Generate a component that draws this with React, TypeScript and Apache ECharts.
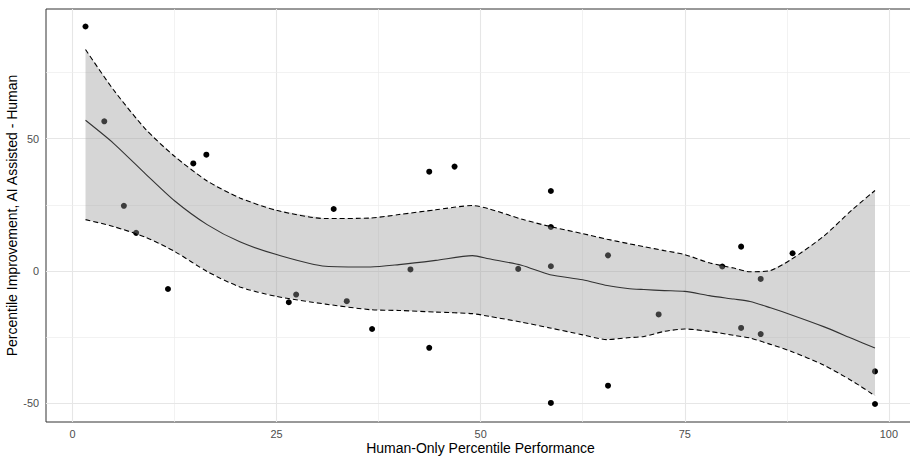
import React, { useEffect, useRef } from "react";
import * as echarts from "echarts";

// Scatter points (Human-only percentile vs improvement)
const pointX = [1.6, 3.9, 6.3, 7.8, 11.7, 14.8, 16.4, 26.5, 27.4, 32.0, 33.6, 36.7, 41.4, 43.7, 43.7, 46.8, 54.6, 58.6, 58.6, 58.6, 58.6, 65.6, 65.6, 71.8, 79.6, 81.9, 81.9, 84.3, 84.3, 88.2, 98.3, 98.3];
const pointY = [92.3, 56.5, 24.6, 14.4, -6.8, 40.6, 43.9, -11.8, -8.9, 23.4, -11.4, -21.9, 0.6, 37.5, -29.0, 39.4, 0.8, 30.2, 16.6, 1.8, -49.8, 5.9, -43.3, -16.4, 1.7, 9.2, -21.5, -3.0, -23.8, 6.7, -37.9, -50.2];

// Loess fit and confidence band
const smoothX = [1.6, 5, 9, 12.5, 16.5, 20.5, 25, 31, 36.5, 40, 44.5, 49, 51, 55, 58.5, 62.5, 65.5, 68, 70, 72.5, 75, 78, 81, 83, 85.5, 88, 92, 95.5, 98.3];
const fitY = [56.9, 48.3, 36.5, 26.5, 17.5, 11.0, 6.2, 1.8, 1.5, 2.4, 4.0, 5.8, 4.6, 2.2, -1.4, -3.3, -5.5, -6.6, -7.0, -7.4, -7.7, -9.3, -10.6, -11.5, -13.9, -16.5, -21.0, -25.5, -29.1];
const upperY = [83.6, 68.5, 53.4, 43.3, 34.0, 27.6, 22.9, 19.8, 20.0, 21.3, 23.1, 24.7, 23.5, 19.6, 16.8, 14.1, 12.0, 10.4, 9.2, 7.7, 6.2, 3.1, 1.1, -0.3, 0.2, 4.3, 13.1, 23.1, 30.4];
const lowerY = [19.4, 16.8, 12.7, 7.4, -0.2, -6.0, -9.6, -12.5, -14.6, -14.9, -15.5, -16.1, -17.1, -19.3, -21.5, -24.1, -25.9, -25.2, -24.7, -22.8, -21.9, -22.8, -24.3, -25.3, -27.7, -30.3, -35.5, -41.5, -47.1];

// Axis ticks and grid lines
const xTicks = [0, 25, 50, 75, 100];
const yTicks = [-50, 0, 50];
const xMinor = [12.5, 37.5, 62.5, 87.5];
const yMinor = [-25, 25, 75];

const FONT = "'Liberation Sans', Arial, Helvetica, sans-serif";

export default function App() {
  const ref = useRef<HTMLDivElement>(null);

  useEffect(() => {
    document.body.style.margin = "0";
    if (!ref.current) return;
    const chart = echarts.init(ref.current, undefined, { renderer: "svg" });

    const gridLines = [
      ...xTicks.map((v) => ({ xAxis: v, lineStyle: { color: "#e6e6e6", width: 1.1 } })),
      ...xMinor.map((v) => ({ xAxis: v, lineStyle: { color: "#ededed", width: 0.7 } })),
      ...yTicks.map((v) => ({ yAxis: v, lineStyle: { color: "#e6e6e6", width: 1.1 } })),
      ...yMinor.map((v) => ({ yAxis: v, lineStyle: { color: "#ededed", width: 0.7 } })),
    ];

    chart.setOption({
      animation: false,
      backgroundColor: "#ffffff",
      grid: {
        left: 46,
        top: 9,
        width: 869,
        height: 413,
        show: true,
        borderColor: "#333333",
        borderWidth: 1,
        backgroundColor: "transparent",
        containLabel: false,
        outerBoundsMode: "none",
      },
      xAxis: {
        type: "value",
        min: -3.24,
        max: 103.2,
        name: "Human-Only Percentile Performance",
        nameLocation: "middle",
        nameGap: 19,
        nameMoveOverlap: false,
        nameTextStyle: { color: "#000000", fontSize: 14, fontFamily: FONT, verticalAlign: "top" },
        axisLine: { show: false },
        axisTick: { show: true, customValues: xTicks, length: 4, lineStyle: { color: "#333333", width: 1 } },
        axisLabel: { customValues: xTicks, color: "#4d4d4d", fontSize: 10.9, fontFamily: FONT, margin: 6 },
        splitLine: { show: false },
      },
      yAxis: {
        type: "value",
        min: -57.0,
        max: 98.9,
        name: "Percentile Improvement, AI Assisted - Human",
        nameLocation: "middle",
        nameGap: 27,
        nameMoveOverlap: false,
        nameTextStyle: { color: "#000000", fontSize: 14, fontFamily: FONT },
        axisLine: { show: false },
        axisTick: { show: true, customValues: yTicks, length: 4, lineStyle: { color: "#333333", width: 1 } },
        axisLabel: { customValues: yTicks, color: "#4d4d4d", fontSize: 10.9, fontFamily: FONT, margin: 7 },
        splitLine: { show: false },
      },
      series: [
        {
          type: "scatter",
          z: 1,
          data: [],
          silent: true,
          markLine: {
            silent: true,
            symbol: "none",
            z: 1,
            animation: false,
            label: { show: false },
            lineStyle: { type: "solid" },
            data: gridLines,
          },
        },
        {
          type: "scatter",
          z: 2,
          symbolSize: 6,
          itemStyle: { color: "#000000", opacity: 1 },
          data: pointX.map((x, i) => [x, pointY[i]]),
        },
        {
          type: "custom",
          z: 3,
          clip: true,
          silent: true,
          data: smoothX.map((x, i) => [x, lowerY[i], upperY[i]]),
          encode: { x: 0, y: [1, 2] },
          renderItem: (params: any, api: any) => {
            if (params.dataIndex !== 0) return null;
            const pts: number[][] = [];
            for (let i = 0; i < smoothX.length; i++) pts.push(api.coord([smoothX[i], upperY[i]]));
            for (let i = smoothX.length - 1; i >= 0; i--) pts.push(api.coord([smoothX[i], lowerY[i]]));
            return {
              type: "polygon",
              shape: { points: pts },
              style: { fill: "rgba(153,153,153,0.4)", stroke: "none" },
            };
          },
        },
        {
          type: "line",
          z: 4,
          smooth: 0.25,
          showSymbol: false,
          symbol: "none",
          lineStyle: { color: "#333333", width: 1.1 },
          data: smoothX.map((x, i) => [x, fitY[i]]),
        },
        {
          type: "line",
          z: 4,
          smooth: 0.25,
          showSymbol: false,
          symbol: "none",
          lineStyle: { color: "#000000", width: 1.1, type: [5, 3] },
          data: smoothX.map((x, i) => [x, upperY[i]]),
        },
        {
          type: "line",
          z: 4,
          smooth: 0.25,
          showSymbol: false,
          symbol: "none",
          lineStyle: { color: "#000000", width: 1.1, type: [5, 3] },
          data: smoothX.map((x, i) => [x, lowerY[i]]),
        },
      ],
    });

    return () => chart.dispose();
  }, []);

  return (
    <div
      ref={ref}
      style={{ width: 910, height: 458, position: "fixed", left: 0, top: 0, background: "#fff" }}
    />
  );
}
